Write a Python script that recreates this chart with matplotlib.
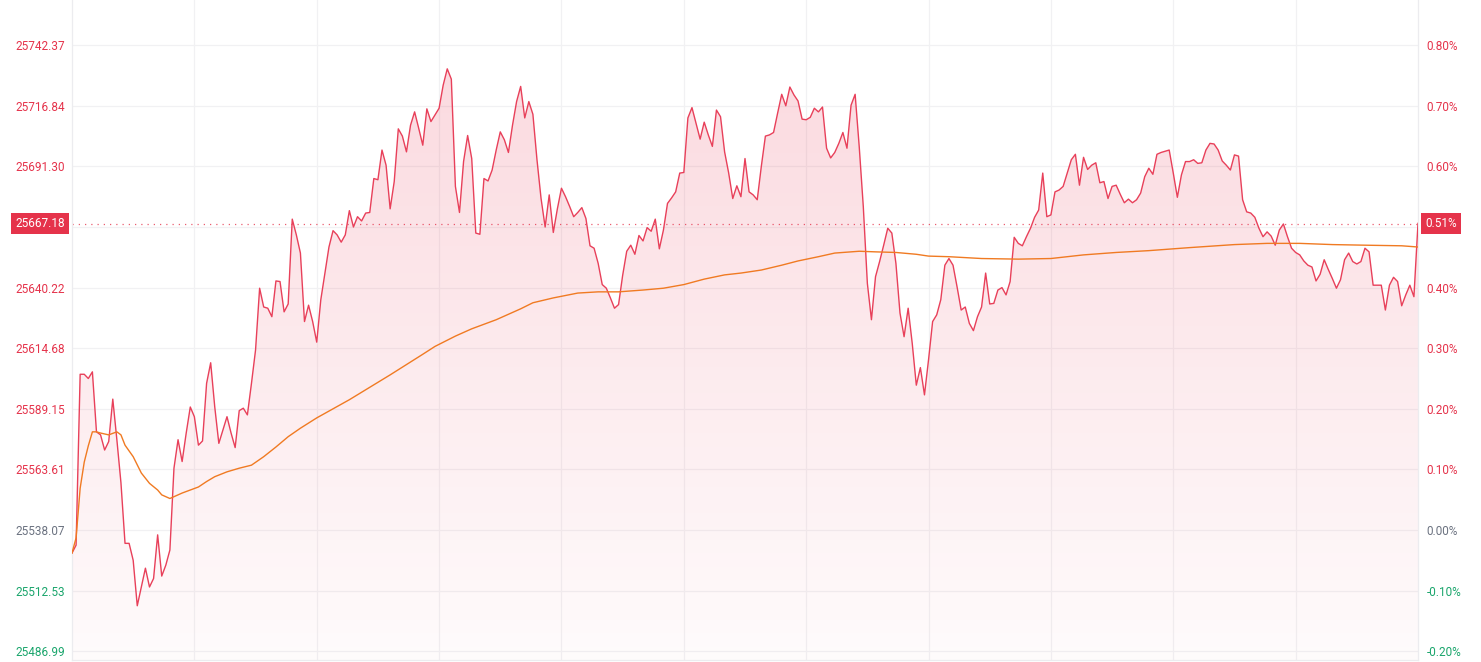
import matplotlib.pyplot as plt
import numpy as np

plt.rcParams['font.family'] = ['Roboto', 'DejaVu Sans']

# previous close and the last traded price
prev_close = 25538.07
last_price = 25667.18

# intraday change vs previous close, % (one value per minute, 331 minutes)
pct = [
    -0.038, -0.025, 0.257, 0.257, 0.250, 0.261, 0.162, 0.157, 0.132, 0.146,
    0.216, 0.149, 0.078, -0.022, -0.022, -0.050, -0.125, -0.094, -0.063, -0.094,
    -0.080, -0.008, -0.076, -0.058, -0.033, 0.102, 0.149, 0.113, 0.160, 0.203,
    0.187, 0.140, 0.147, 0.242, 0.276, 0.203, 0.143, 0.165, 0.187, 0.160,
    0.136, 0.197, 0.201, 0.190, 0.242, 0.297, 0.399, 0.368, 0.366, 0.352,
    0.411, 0.410, 0.360, 0.373, 0.513,
    0.487, 0.457, 0.344, 0.371, 0.344, 0.310, 0.380, 0.424, 0.467, 0.494,
    0.487, 0.475, 0.487, 0.527, 0.500, 0.517, 0.510, 0.523, 0.524, 0.580,
    0.578, 0.627, 0.602, 0.530, 0.575, 0.662, 0.650, 0.624, 0.668, 0.690,
    0.663, 0.635, 0.695, 0.674, 0.685, 0.696, 0.734, 0.761, 0.744, 0.567,
    0.524, 0.608, 0.651, 0.613, 0.490, 0.488, 0.580, 0.576, 0.594, 0.627,
    0.657, 0.644, 0.623, 0.668, 0.707,
    0.732, 0.680, 0.707, 0.686, 0.611, 0.547, 0.500, 0.553, 0.491, 0.530,
    0.564, 0.550, 0.534, 0.517, 0.524, 0.532, 0.514, 0.469, 0.465, 0.440,
    0.405, 0.399, 0.383, 0.366, 0.372, 0.420, 0.460, 0.470, 0.455, 0.486,
    0.477, 0.499, 0.493, 0.513, 0.464, 0.495, 0.539, 0.548, 0.558, 0.589,
    0.590, 0.680, 0.697, 0.671, 0.645, 0.673, 0.652, 0.633, 0.693, 0.682,
    0.624, 0.589, 0.547, 0.568,
    0.550, 0.613, 0.558, 0.553, 0.545, 0.600, 0.650, 0.652, 0.656, 0.688,
    0.719, 0.700, 0.731, 0.718, 0.708, 0.678, 0.677, 0.681, 0.696, 0.690,
    0.698, 0.630, 0.614, 0.623, 0.638, 0.656, 0.630, 0.701, 0.719, 0.633,
    0.534, 0.407, 0.347, 0.418, 0.443, 0.470, 0.498, 0.490, 0.440, 0.358,
    0.319, 0.366, 0.308, 0.239, 0.268, 0.223, 0.281, 0.344, 0.355, 0.380,
    0.437,
    0.448, 0.437, 0.401, 0.363, 0.368, 0.341, 0.329, 0.352, 0.368, 0.424,
    0.373, 0.374, 0.396, 0.400, 0.388, 0.410, 0.483, 0.473, 0.469, 0.484,
    0.498, 0.516, 0.528, 0.589, 0.517, 0.520, 0.558, 0.561, 0.567, 0.589,
    0.611, 0.620, 0.569, 0.615, 0.595, 0.602, 0.606, 0.573, 0.575, 0.547,
    0.567, 0.569, 0.554, 0.540, 0.546, 0.540, 0.545, 0.556, 0.583, 0.597,
    0.587, 0.620, 0.623, 0.625, 0.627, 0.589, 0.549, 0.586, 0.608, 0.608,
    0.611,
    0.605, 0.606, 0.627, 0.638, 0.637, 0.627, 0.609, 0.602, 0.594, 0.619,
    0.617, 0.545, 0.525, 0.523, 0.516, 0.498, 0.484, 0.492, 0.485, 0.470,
    0.495, 0.505, 0.484, 0.465, 0.458, 0.454, 0.444, 0.437, 0.434, 0.411,
    0.422, 0.446, 0.430, 0.415, 0.399, 0.413, 0.446, 0.457, 0.443, 0.439,
    0.443, 0.465, 0.459, 0.404, 0.404, 0.404, 0.363, 0.404, 0.417, 0.410,
    0.370, 0.388, 0.404, 0.385, 0.506,
]

# average price line, % vs previous close
avg_minutes = [0, 1, 2, 3, 4, 5, 6, 7, 9, 11, 12, 13, 15, 17, 19, 21, 22, 24,
               27, 31, 33, 35, 38, 41, 44, 47, 50, 53, 56, 60, 68, 78, 86, 89,
               94, 98, 104, 110, 113, 118, 124, 129, 134, 140, 145, 150, 155,
               160, 164, 169, 174, 178, 183, 187, 193, 197, 202, 207, 210, 215,
               223, 232, 240, 248, 256, 264, 274, 285, 293, 301, 309, 317, 326,
               330]
avg_pct = [-0.038, -0.013, 0.069, 0.112, 0.139, 0.162, 0.162, 0.160, 0.157,
           0.162, 0.157, 0.140, 0.121, 0.094, 0.077, 0.066, 0.058, 0.052,
           0.061, 0.071, 0.080, 0.088, 0.096, 0.102, 0.107, 0.121, 0.137,
           0.154, 0.168, 0.185, 0.215, 0.256, 0.290, 0.303, 0.320, 0.332,
           0.347, 0.365, 0.375, 0.383, 0.391, 0.393, 0.393, 0.396, 0.399,
           0.405, 0.414, 0.421, 0.424, 0.429, 0.437, 0.444, 0.451, 0.457,
           0.460, 0.459, 0.458, 0.455, 0.452, 0.451, 0.448, 0.447, 0.448,
           0.454, 0.458, 0.461, 0.466, 0.471, 0.473, 0.473, 0.471, 0.470,
           0.469, 0.467]

tick_pct = [0.8, 0.7, 0.6, 0.5, 0.4, 0.3, 0.2, 0.1, 0.0, -0.1, -0.2]
session_minutes = 330

red = '#e5334b'
grey = '#6b7280'
green = '#1aa56c'

minutes = np.arange(len(pct))
last_pct = (last_price / prev_close - 1) * 100

y_top, y_bot = 0.8746, -0.2145

fig = plt.figure(figsize=(14.81, 6.62), dpi=100)
ax = fig.add_axes([72 / 1481, 2 / 662, (1418 - 72) / 1481, 660 / 662])
ax.set_xlim(0, session_minutes)
ax.set_ylim(y_bot, y_top)

# grid
for t in tick_pct:
    ax.axhline(t, color='#f1f1f3', lw=0.9, zorder=0)
for m in range(30, session_minutes, 30):
    ax.axvline(m, color='#f1f1f3', lw=0.9, zorder=0)

# gradient area under the price line
fill = ax.fill_between(minutes, pct, y_bot, color='none', lw=0)
grad = np.zeros((256, 1, 4))
grad[..., 0], grad[..., 1], grad[..., 2] = 0.92, 0.25, 0.36
grad[:, 0, 3] = np.linspace(0.2, 0.02, 256)
im = ax.imshow(grad, extent=[0, session_minutes, y_bot, 0.8], aspect='auto',
               origin='upper', zorder=1, interpolation='bilinear')
im.set_clip_path(fill.get_paths()[0], transform=ax.transData)

ax.plot(minutes, pct, color='#e8405a', lw=1.0, zorder=3)
ax.plot(avg_minutes, avg_pct, color='#f07a22', lw=1.0, zorder=4)

# last price dotted line
ax.axhline(last_pct, color=red, lw=0.9, ls=(0, (1, 4)), alpha=0.8, zorder=2)

ax.spines['top'].set_visible(False)
for s in ['left', 'right', 'bottom']:
    ax.spines[s].set_color('#ececef')
    ax.spines[s].set_linewidth(0.9)

def tick_color(t):
    if t > 0:
        return red
    if t < 0:
        return green
    return grey

# the 0.50% level is covered by the last-price labels
ax.set_yticks(tick_pct)
ax.set_yticklabels(['' if t == 0.5 else '%.2f' % (prev_close * (1 + t / 100))
                    for t in tick_pct])
ax.tick_params(axis='y', length=0, pad=5, labelsize=8.5)
ax.set_xticks([])
for lab, t in zip(ax.get_yticklabels(), tick_pct):
    lab.set_color(tick_color(t))

ax2 = ax.twinx()
ax2.set_ylim(ax.get_ylim())
ax2.set_yticks(tick_pct)
ax2.set_yticklabels(['' if t == 0.5 else '%.2f%%' % t for t in tick_pct])
ax2.tick_params(axis='y', length=0, pad=6, labelsize=8.5)
for lab, t in zip(ax2.get_yticklabels(), tick_pct):
    lab.set_color(tick_color(t))
for s in ax2.spines.values():
    s.set_visible(False)

# highlighted last-price labels
ax.annotate('%.2f' % last_price, xy=(0, last_pct),
            xycoords=('axes fraction', 'data'), xytext=(-5, 0),
            textcoords='offset points', ha='right', va='center',
            fontsize=8.5, color='white', zorder=10, annotation_clip=False,
            bbox=dict(boxstyle='square,pad=0.35', fc=red, ec='none'))
ax.annotate('%.2f%%' % last_pct, xy=(1, last_pct),
            xycoords=('axes fraction', 'data'), xytext=(5, 0),
            textcoords='offset points', ha='left', va='center',
            fontsize=8.5, color='white', zorder=10, annotation_clip=False,
            bbox=dict(boxstyle='square,pad=0.35', fc=red, ec='none'))

fig.savefig('out.png', dpi=100)
